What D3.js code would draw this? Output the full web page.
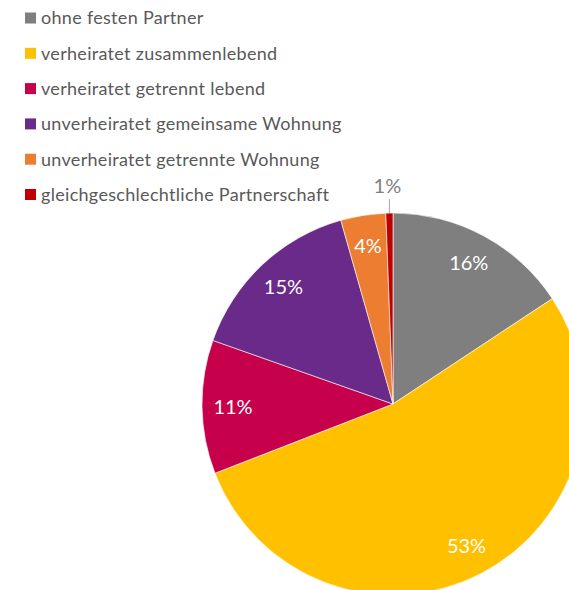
<!DOCTYPE html>
<html>
<head>
<meta charset="utf-8">
<script src="https://cdn.jsdelivr.net/npm/d3@7"></script>
<style>
  body { margin: 0; background: #fff; }
  svg { display: block; }
</style>
</head>
<body>
<svg width="569" height="590"></svg>
<script>
categories = ["ohne festen Partner", "verheiratet zusammenlebend", "verheiratet getrennt lebend",
  "unverheiratet gemeinsame Wohnung", "unverheiratet getrennte Wohnung", "gleichgeschlechtliche Partnerschaft"];
values = [15.7, 53.4, 11.3, 15.2, 3.8, 0.6];
labels = ["16%", "53%", "11%", "15%", "4%", "1%"];
colors = ["#7f7f7f", "#ffc000", "#c7004c", "#6a2a89", "#ed7d31", "#c00000"];

width = 569;
height = 590;
cx = 393; cy = 404;
radius = 191;

function draw() {
  const svg = d3.select("svg");
  const data = categories.map((c, i) => ({name: c, value: values[i], label: labels[i], color: colors[i]}));

  const pie = d3.pie().sort(null).value(d => d.value);
  const arc = d3.arc().innerRadius(0).outerRadius(radius);
  const labelArc = d3.arc().innerRadius(160).outerRadius(160);

  const g = svg.append("g").attr("transform", `translate(${cx},${cy})`);
  const arcs = pie(data);

  g.selectAll("path")
    .data(arcs)
    .join("path")
      .attr("d", arc)
      .attr("fill", d => d.data.color)
      .attr("stroke", "#fff")
      .attr("stroke-width", 0.6);

  // inside labels
  g.selectAll("text.inner")
    .data(arcs.filter(d => d.index < 5))
    .join("text")
      .attr("class", "inner")
      .attr("transform", d => `translate(${labelArc.centroid(d)})`)
      .attr("text-anchor", "middle")
      .attr("dy", "0.35em")
      .style("font", "20px Lato, sans-serif")
      .attr("fill", "#fff")
      .text(d => d.data.label);

  // small slice: outside label with leader
  const small = arcs[5];
  const a = (small.startAngle + small.endAngle) / 2;
  const lx = Math.sin(a) * radius, ly = -Math.cos(a) * radius;
  g.append("line")
    .attr("x1", lx).attr("y1", ly)
    .attr("x2", lx).attr("y2", ly - 14)
    .attr("stroke", "#a6a6a6").attr("stroke-width", 1);
  g.append("text")
    .attr("x", lx - 2).attr("y", ly - 20)
    .attr("text-anchor", "middle")
    .style("font", "20px Lato, sans-serif")
    .attr("fill", "#7f7f7f")
    .text(small.data.label);

  // legend
  const legend = svg.append("g").attr("transform", "translate(25,18)");
  const item = legend.selectAll("g")
    .data(data)
    .join("g")
      .attr("transform", (d, i) => `translate(0,${i * 35.3})`);
  item.append("rect")
    .attr("x", 0).attr("y", -5.5).attr("width", 11).attr("height", 11)
    .attr("fill", d => d.color);
  item.append("text")
    .attr("x", 16).attr("dy", "0.35em")
    .style("font", "18px Lato, sans-serif")
    .style("letter-spacing", "0.3px")
    .attr("fill", "#595959")
    .text(d => d.name);
}
draw();
</script>
</body>
</html>
